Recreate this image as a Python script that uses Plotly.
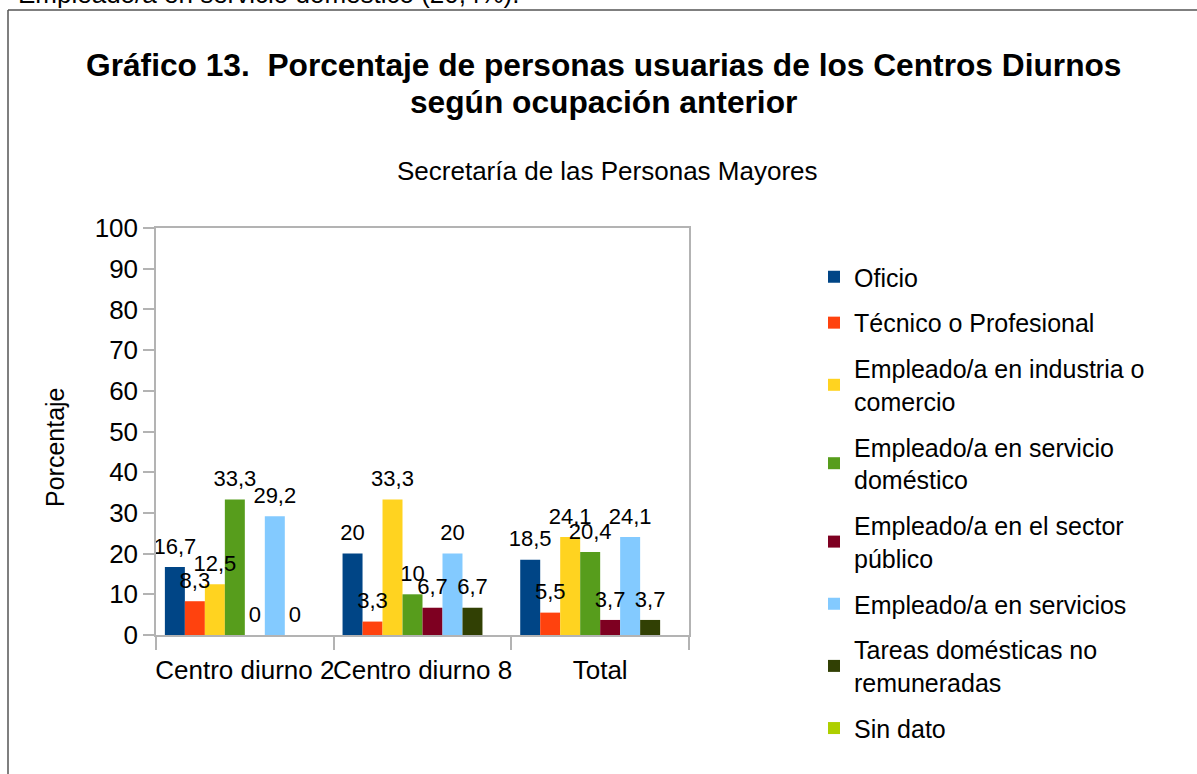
import plotly.graph_objects as go

categories = ["Centro diurno 2", "Centro diurno 8", "Total"]
series_names = [
    "Oficio",
    "Técnico o Profesional",
    "Empleado/a en industria o<br>comercio",
    "Empleado/a en servicio<br>doméstico",
    "Empleado/a en el sector<br>público",
    "Empleado/a en servicios",
    "Tareas domésticas no<br>remuneradas",
    "Sin dato",
]
oficio = [16.7, 20, 18.5]
tecnico = [8.3, 3.3, 5.5]
industria = [12.5, 33.3, 24.1]
domestico = [33.3, 10, 20.4]
publico = [0, 6.7, 3.7]
servicios = [29.2, 20, 24.1]
tareas = [0, 6.7, 3.7]
sin_dato = [None, None, None]
series_values = [oficio, tecnico, industria, domestico, publico, servicios, tareas, sin_dato]
colors = ["#004586", "#ff420e", "#ffd320", "#579d1c", "#7e0021", "#83caff", "#314004", "#aecf00"]
y_ticks = list(range(0, 101, 10))

FONT = "Liberation Sans, Arial, sans-serif"
W, H = 1197, 774
ML, MR, MT, MB = 156, 508, 228, 139
PW = W - ML - MR
PH = H - MT - MB
GAP = 0.1


def px_x(px):
    return (px - ML) / PW


def px_y(py):
    return 1 - (py - MT) / PH


def fmt(v):
    if v is None:
        return ""
    return f"{v:g}".replace(".", ",")


fig = go.Figure()
for i, (name, vals, col) in enumerate(zip(series_names, series_values, colors)):
    fig.add_trace(go.Bar(
        x=categories, y=vals, name=name,
        marker=dict(color=col, line=dict(width=0)),
        legendgroup=f"g{i}", offsetgroup=f"o{i}",
        hoverinfo="skip",
    ))
# value labels drawn above all bars, grouped like the bars
for i, (name, vals) in enumerate(zip(series_names, series_values)):
    fig.add_trace(go.Scatter(
        x=categories, y=vals, mode="markers+text",
        marker=dict(size=11, opacity=0, color="white"),
        text=[fmt(v) for v in vals],
        textposition="top center",
        textfont=dict(family=FONT, size=22, color="#000000"),
        showlegend=False, cliponaxis=False,
        offsetgroup=f"o{i}", hoverinfo="skip",
    ))

fig.update_layout(
    width=W, height=H,
    margin=dict(l=ML, r=MR, t=MT, b=MB, pad=0, autoexpand=False),
    paper_bgcolor="white", plot_bgcolor="white",
    barmode="group", bargap=GAP, bargroupgap=0,
    scattermode="group", scattergap=GAP,
    font=dict(family=FONT, size=26, color="#000000"),
    showlegend=True,
    legend=dict(
        x=814 / W, y=1 - 254 / H, xref="container", yref="container",
        xanchor="left", yanchor="top",
        font=dict(family=FONT, size=25, color="#000000"),
        traceorder="grouped", tracegroupgap=10.4,
        bgcolor="rgba(0,0,0,0)", itemwidth=30, maxheight=700,
    ),
    xaxis=dict(
        showline=True, linecolor="#b3b3b3", linewidth=1.5, mirror=True,
        ticks="outside", tickson="boundaries", ticklen=13, tickcolor="#b3b3b3", tickwidth=1.5,
        showgrid=False, tickangle=0, automargin=False, ticklabelstandoff=11,
        tickfont=dict(family=FONT, size=26, color="#000000"),
    ),
    yaxis=dict(
        range=[0, 100], tickvals=y_ticks, ticktext=[str(t) for t in y_ticks],
        showline=True, linecolor="#b3b3b3", linewidth=1.5, mirror=True,
        ticks="outside", ticklen=11, tickcolor="#b3b3b3", tickwidth=1.5,
        showgrid=False, zeroline=False, automargin=False,
        tickfont=dict(family=FONT, size=26, color="#000000"),
    ),
)

annotations = [
    dict(text="<b>Gráfico 13.\u00a0 Porcentaje de personas usuarias de los Centros Diurnos</b>",
         x=px_x(603), y=px_y(65), xanchor="center", yanchor="middle",
         font=dict(family=FONT, size=31.7, color="#000000"), showarrow=False),
    dict(text="<b>según ocupación anterior</b>",
         x=px_x(603), y=px_y(102), xanchor="center", yanchor="middle",
         font=dict(family=FONT, size=31.7, color="#000000"), showarrow=False),
    dict(text="Secretaría de las Personas Mayores",
         x=px_x(607), y=px_y(171), xanchor="center", yanchor="middle",
         font=dict(family=FONT, size=26, color="#000000"), showarrow=False),
    dict(text="Porcentaje", textangle=-90,
         x=px_x(55), y=px_y(447), xanchor="center", yanchor="middle",
         font=dict(family=FONT, size=25, color="#000000"), showarrow=False),
    dict(text="Empleado/a en servicio doméstico (20,4%).",
         x=px_x(521), y=px_y(11), xanchor="right", yanchor="bottom",
         font=dict(family=FONT, size=26, color="#000000"), showarrow=False),
]
for a in annotations:
    a["xref"] = "paper"
    a["yref"] = "paper"
fig.update_layout(annotations=annotations)

fig.add_shape(type="line", xref="paper", yref="paper",
              x0=px_x(8), x1=px_x(1200), y0=px_y(10), y1=px_y(10),
              line=dict(color="#555555", width=1.5))
fig.add_shape(type="line", xref="paper", yref="paper",
              x0=px_x(8), x1=px_x(8), y0=px_y(10), y1=px_y(780),
              line=dict(color="#555555", width=1.5))

fig.write_html("out.html", config={"displayModeBar": False},
               post_script="document.body.style.margin='0';")
